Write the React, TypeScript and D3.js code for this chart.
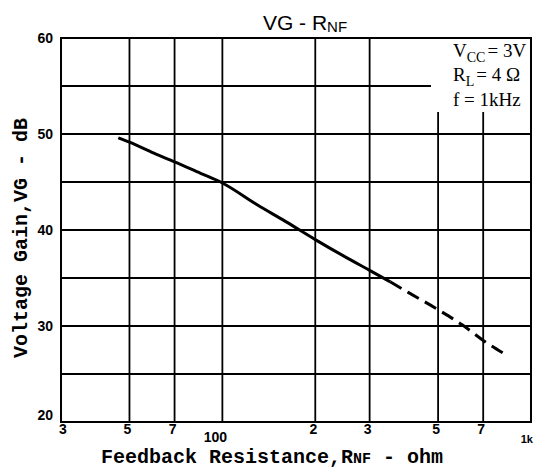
import * as d3 from 'd3';

// solid part of the measured curve (ohm, dB)
const rnfSolid = [46, 50, 60, 70, 85, 100, 130, 160, 200, 250, 300, 350];
const vgSolid = [49.6, 49.15, 48.0, 47.1, 45.9, 44.9, 42.6, 40.9, 39.0, 37.2, 35.8, 34.6];
// extrapolated (dashed) part
const rnfDashed = [350, 400, 500, 600, 700, 810];
const vgDashed = [34.6, 33.5, 31.7, 30.1, 28.5, 27.2];

const xGrid = [30, 50, 70, 100, 200, 300, 500, 700, 1000];
const xTickLabels = ['3', '5', '7', '100', '2', '3', '5', '7', '1k'];
const yGrid = [20, 25, 30, 35, 40, 45, 50, 55, 60];
const yTickLabels = [20, 30, 40, 50, 60];

const W = 534;
const H = 469;
const left = 61;
const right = 531;
const top = 38;
const bottom = 422;

export default function App() {
  const x = d3.scaleLog().domain([30, 1000]).range([left, right]);
  const y = d3.scaleLinear().domain([20, 60]).range([bottom, top]);

  const line = d3
    .line<[number, number]>()
    .x((d) => x(d[0]))
    .y((d) => y(d[1]))
    .curve(d3.curveMonotoneX);

  const solid = rnfSolid.map((r, i) => [r, vgSolid[i]] as [number, number]);
  const dashed = rnfDashed.map((r, i) => [r, vgDashed[i]] as [number, number]);

  const mono = '"Liberation Mono", "DejaVu Sans Mono", monospace';
  const sans = '"Liberation Sans", Arial, sans-serif';
  const serif = '"Liberation Serif", "Times New Roman", serif';

  return (
    <svg
      width={W}
      height={H}
      style={{ position: 'absolute', left: 0, top: 0, background: '#fff' }}
    >
      <rect x={0} y={0} width={W} height={H} fill="#fff" />

      {/* grid */}
      {yGrid.map((v) => (
        <line key={'y' + v} x1={left} x2={right} y1={y(v)} y2={y(v)} stroke="#000" strokeWidth={1.8} />
      ))}
      {xGrid.map((v) => (
        <line key={'x' + v} x1={x(v)} x2={x(v)} y1={top} y2={bottom} stroke="#000" strokeWidth={1.8} />
      ))}

      {/* conditions box */}
      <rect x={431} y={top + 1} width={right - 432} height={73} fill="#fff" />
      <g fontFamily={serif} fontSize={19} fill="#000">
        <text x={453} y={57}>
          V<tspan fontSize={14} dy={5}>CC</tspan>
          <tspan dy={-5} dx={2}>= 3V</tspan>
        </text>
        <text x={453} y={81}>
          R<tspan fontSize={14} dy={5}>L</tspan>
          <tspan dy={-5} dx={2}>= 4 Ω</tspan>
        </text>
        <text x={453} y={106}>f = 1kHz</text>
      </g>

      <rect x={left} y={top} width={right - left} height={bottom - top} fill="none" stroke="#000" strokeWidth={2} />

      {/* curve */}
      <path d={line(solid) ?? ''} fill="none" stroke="#000" strokeWidth={3} />
      <path d={line(dashed) ?? ''} fill="none" stroke="#000" strokeWidth={3} strokeDasharray="13 7" />

      {/* y tick labels */}
      <g fontFamily={sans} fontWeight="bold" fontSize={14} textAnchor="end">
        {yTickLabels.map((v) => (
          <text key={v} x={53} y={Math.min(y(v) + 5, bottom - 2)}>
            {v}
          </text>
        ))}
      </g>

      {/* x tick labels */}
      <g fontFamily={sans} fontWeight="bold" fontSize={14} textAnchor="middle">
        {xGrid.map((v, i) => {
          const lab = xTickLabels[i];
          if (lab === '100') return <text key={i} x={x(v) - 7} y={442}>{lab}</text>;
          if (lab === '1k')
            return (
              <text key={i} x={533} y={443} fontSize={11} textAnchor="end">
                {lab}
              </text>
            );
          const dx = i === 0 ? 2 : -2;
          return (
            <text key={i} x={x(v) + dx} y={434}>
              {lab}
            </text>
          );
        })}
      </g>

      {/* title */}
      <text x={305} y={30} fontFamily={sans} fontSize={21} textAnchor="middle">
        VG - R<tspan fontSize={15} dy={2}>NF</tspan>
      </text>

      {/* axis titles */}
      <text x={272} y={463} fontFamily={mono} fontWeight="bold" fontSize={20} textAnchor="middle">
        Feedback Resistance,R<tspan fontSize={15}>NF</tspan> - ohm
      </text>
      <text
        transform={`translate(27,${(top + bottom) / 2 + 8}) rotate(-90)`}
        fontFamily={mono}
        fontWeight="bold"
        fontSize={20}
        textAnchor="middle"
      >
        Voltage Gain,VG - dB
      </text>
    </svg>
  );
}
